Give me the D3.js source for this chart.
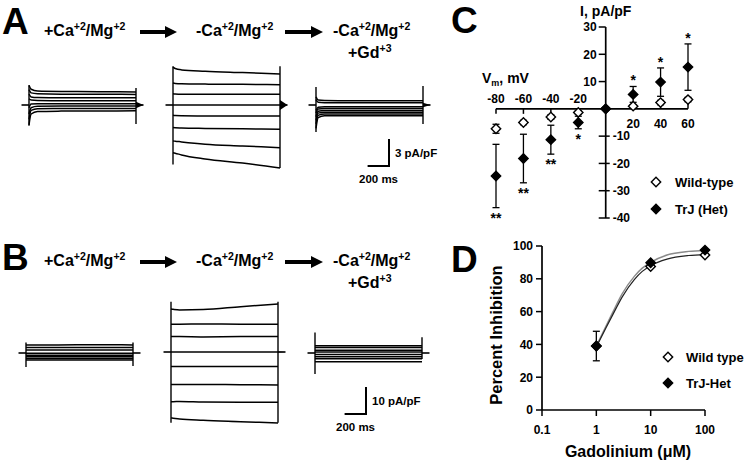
<!DOCTYPE html>
<html>
<head>
<meta charset="utf-8">
<script src="https://cdn.jsdelivr.net/npm/d3@7"></script>
<style>
body{margin:0;background:#fff}
text{font-family:"Liberation Sans",Arial,sans-serif;font-weight:bold;fill:#000}
</style>
</head>
<body>
<script>
// ---- data ----
var conditionLabels = [
	[["+Ca","+2"],["/Mg","+2"]],
	[["-Ca","+2"],["/Mg","+2"]],
	[["-Ca","+2"],["/Mg","+2"]]
];
var gdLabel = [["+Gd","+3"]];

// current traces (pA/pF), one row per voltage step, sampled at traceTimes (ms)
var traceTimes = [0, 20, 80, 300, 650, 1000];
var tracesA1 = [
	[2.2,1.75,1.55,1.5,1.48,1.45],
	[1.7,1.35,1.25,1.2,1.2,1.18],
	[1.2,0.9,0.83,0.8,0.8,0.8],
	[0.7,0.55,0.5,0.48,0.47,0.47],
	[-0.3,0.1,0.15,0.15,0.15,0.15],
	[-1.0,-0.3,-0.15,-0.12,-0.12,-0.12],
	[-1.6,-0.6,-0.42,-0.4,-0.4,-0.4],
	[-2.2,-1.0,-0.72,-0.68,-0.66,-0.65]
];
var tracesA2 = [
	[4.2,4.05,3.9,3.75,3.6,3.45],
	[2.45,2.4,2.35,2.32,2.3,2.25],
	[1.25,1.22,1.2,1.2,1.2,1.2],
	[0,0,0,0,0,0],
	[-1.15,-1.18,-1.2,-1.22,-1.22,-1.22],
	[-2.5,-2.52,-2.55,-2.6,-2.65,-2.7],
	[-4.0,-4.02,-4.1,-4.35,-4.55,-4.75],
	[-5.3,-5.35,-5.55,-6.0,-6.45,-7.0]
];
var tracesA3 = [
	[0.9,0.55,0.5,0.48,0.47,0.47],
	[0.6,0.3,0.26,0.25,0.25,0.25],
	[-0.6,-0.25,-0.2,-0.2,-0.2,-0.2],
	[-0.9,-0.45,-0.4,-0.4,-0.4,-0.4],
	[-1.3,-0.7,-0.6,-0.6,-0.6,-0.6],
	[-1.7,-0.9,-0.8,-0.8,-0.8,-0.8],
	[-2.1,-1.15,-1.0,-1.0,-1.0,-1.0],
	[-2.6,-1.4,-1.2,-1.2,-1.2,-1.2]
];
var tracesB1 = [
	[3.0,3.0,3.0,3.0,3.1,3.0],
	[2.0,2.0,2.0,2.0,2.0,2.0],
	[1.1,1.1,1.1,1.1,1.1,1.1],
	[-0.1,-0.1,-0.1,-0.1,-0.1,-0.1],
	[-0.8,-0.8,-0.8,-0.8,-0.8,-0.8],
	[-1.4,-1.4,-1.4,-1.4,-1.4,-1.4],
	[-2.0,-2.0,-2.0,-2.0,-2.0,-2.0],
	[-2.6,-2.6,-2.6,-2.6,-2.6,-2.6]
];
var tracesB2 = [
	[15.9,15.8,15.6,15.7,16.8,17.8],
	[10.3,10.3,10.3,10.4,10.3,10.3],
	[5.7,5.7,5.7,5.6,5.7,5.7],
	[0,0,0,0,0,0],
	[-5.4,-5.4,-5.4,-5.4,-5.4,-5.4],
	[-12,-12,-12,-12,-12.1,-12.2],
	[-18.4,-18.4,-18.3,-18.5,-18.6,-18.6],
	[-24.4,-24.5,-24.8,-25.3,-25.8,-26.3]
];
var tracesB3 = [
	[2.7,2.7,2.7,2.7,2.7,2.7],
	[2.0,2.0,2.0,2.0,2.0,2.0],
	[1.0,1.0,1.0,1.0,1.0,1.0],
	[0.4,0.4,0.4,0.4,0.4,0.4],
	[-0.6,-0.6,-0.6,-0.6,-0.6,-0.6],
	[-1.4,-1.4,-1.4,-1.4,-1.4,-1.4],
	[-2.1,-2.1,-2.1,-2.1,-2.1,-2.1],
	[-3.2,-3.2,-3.2,-3.2,-3.2,-3.2]
];
// capacitive spikes: [on top, on bottom, off top, off bottom] (pA/pF)
var spikesA = [[2.2,-2.3,1.9,-2.1],[4.3,-6.6,4.3,-7.0],[2.0,-3.0,2.1,-2.1]];
var spikesB = [[3.9,-5.2,3.9,-4.8],[18.6,-26.2,18.6,-26.2],[7.6,-7.8,5.8,-2.2]];
var tailsA = [0.35, 0.55, 0.25];
var tailsB = [0, 0.2, 0];
var scaleAmp = [3, 10];
var scaleTime = [200, 200];
var scaleUnits = ["3 pA/pF", "10 pA/pF"];

// panel C: I-V
var vm = [-80,-60,-40,-20,0,20,40,60];
var wtI = [-7.3,-5,-3,-1.3,0,1,2.3,3.4];
var wtErr = [1.65,0.8,0.8,0.6,0,0.5,0.8,0.8];
var trjI = [-24.6,-18.2,-11.3,-5,0,5.3,9.8,15.3];
var trjErr = [11.6,8.9,5.3,2.3,0,2.9,5.2,8.5];
var sig = ["**","**","**","*","","*","*","*"];
var ivTicksX = [-80,-60,-40,-20,20,40,60];
var ivTicksY = [30,20,10,-10,-20,-30,-40];
var legendC = ["Wild-type","TrJ (Het)"];

// panel D: Gd dose response
var gdConc = [1,10,100];
var wtInh = [39,87.5,94.5];
var trjInh = [39,89.8,97.5];
var trjInhErr = [9,0,0];
var fitConc = [1,1.5,2,3,5,7,10,20,50,100];
var wtFit = [38.5,50,58,69,79.5,84.5,88,92,94.2,94.8];
var trjFit = [39,51,59.5,71,81.5,86.5,90,94.5,96.7,97.3];
var doseTicksX = [0.1,1,10,100];
var doseTicksY = [0,20,40,60,80,100];
var legendD = ["Wild type","TrJ-Het"];

// ---- drawing ----
var svg = d3.select("body").append("svg").attr("width",745).attr("height",464);
svg.append("rect").attr("width",745).attr("height",464).attr("fill","#fff");

function supText(parts, x, y, size){
	var t = svg.append("text").attr("x",x).attr("y",y).style("font-size",size+"px");
	var up = 0;
	parts.forEach(function(p){
		t.append("tspan").attr("dy",up).text(p[0]);
		t.append("tspan").attr("dy",-size*0.4).style("font-size",(size*0.66)+"px").text(p[1]);
		up = size*0.4;
	});
	return t;
}
function arrow(x1,x2,y){
	svg.append("line").attr("x1",x1).attr("x2",x2-8).attr("y1",y).attr("y2",y)
		.attr("stroke","#000").attr("stroke-width",4);
	svg.append("path").attr("d","M"+(x2-12)+","+(y-6)+"L"+x2+","+y+"L"+(x2-12)+","+(y+6)+"Z").attr("fill","#000");
}
function panelLetter(s,x,y){
	svg.append("text").attr("x",x).attr("y",y).style("font-size","37px").text(s);
}

var line = d3.line().curve(d3.curveMonotoneX);
function drawTraces(traces, x0, yBase, pxPerUnit, spike, tail){
	var x = d3.scaleLinear().domain([0,1000]).range([x0, x0+107]);
	var y = d3.scaleLinear().domain([0,1]).range([yBase, yBase-pxPerUnit]);
	var g = svg.append("g");
	g.append("line").attr("x1",x(-70)).attr("x2",x(0)).attr("y1",y(0)).attr("y2",y(0))
		.attr("stroke","#000").attr("stroke-width",1.6);
	g.append("line").attr("x1",x(1000)).attr("x2",x(1070)).attr("y1",y(0)).attr("y2",y(0))
		.attr("stroke","#000").attr("stroke-width",1.6);
	traces.forEach(function(tr){
		g.append("path").attr("d", line(tr.map(function(v,i){return [x(traceTimes[i]), y(v)];})))
			.attr("fill","none").attr("stroke","#000").attr("stroke-width",1.5);
	});
	g.append("line").attr("x1",x(0)).attr("x2",x(0)).attr("y1",y(spike[0])).attr("y2",y(spike[1]))
		.attr("stroke","#000").attr("stroke-width",1.4);
	g.append("line").attr("x1",x(1000)).attr("x2",x(1000)).attr("y1",y(spike[2])).attr("y2",y(spike[3]))
		.attr("stroke","#000").attr("stroke-width",1.4);
	if(tail>0){
		g.append("path").attr("d","M"+x(1000)+","+y(tail)+"L"+x(1070)+","+y(0)+"L"+x(1000)+","+y(-tail)+"Z")
			.attr("fill","#000");
	}
}
function scaleBar(cx, cy, amp, pxPerUnit, ms, label){
	var x = d3.scaleLinear().domain([0,1000]).range([cx, cx+107]);
	var y = d3.scaleLinear().domain([0,1]).range([cy, cy-pxPerUnit]);
	svg.append("path").attr("d","M"+(cx-(x(ms)-cx))+","+cy+"L"+cx+","+cy+"L"+cx+","+y(amp))
		.attr("fill","none").attr("stroke","#000").attr("stroke-width",2);
	svg.append("text").attr("x",cx+6).attr("y",(cy+y(amp))/2+4).style("font-size","11.5px").text(label);
	svg.append("text").attr("x",cx-30).attr("y",cy+17).style("font-size","11.5px").text(ms+" ms");
}

// Panel A
panelLetter("A",2,34);
var labelX = [44,196,333];
conditionLabels.forEach(function(p,i){ supText(p, labelX[i], 36, 16); });
supText(gdLabel, 348, 58, 16);
arrow(140,177,32); arrow(285,323,32);
drawTraces(tracesA1, 29, 105, 9, spikesA[0], tailsA[0]);
drawTraces(tracesA2, 173, 105, 9, spikesA[1], tailsA[1]);
drawTraces(tracesA3, 316, 105, 9, spikesA[2], tailsA[2]);
scaleBar(389, 166, scaleAmp[0], 9, scaleTime[0], scaleUnits[0]);

// Panel B
panelLetter("B",2,270);
conditionLabels.forEach(function(p,i){ supText(p, labelX[i], 266, 16); });
supText(gdLabel, 348, 288, 16);
arrow(140,177,262); arrow(285,323,262);
drawTraces(tracesB1, 26, 353, 2.7, spikesB[0], tailsB[0]);
drawTraces(tracesB2, 171, 352, 2.7, spikesB[1], tailsB[1]);
drawTraces(tracesB3, 315, 353, 2.7, spikesB[2], tailsB[2]);
scaleBar(366, 414, scaleAmp[1], 2.7, scaleTime[1], scaleUnits[1]);

// Panel C
panelLetter("C",451,33);
var xC = d3.scaleLinear().domain([-80,60]).range([496,688]);
var yC = d3.scaleLinear().domain([-40,30]).range([218,27]);
var gC = svg.append("g");
gC.append("line").attr("x1",xC(-80)).attr("x2",xC(60)).attr("y1",yC(0)).attr("y2",yC(0)).attr("stroke","#000").attr("stroke-width",1.7);
gC.append("line").attr("x1",xC(0)).attr("x2",xC(0)).attr("y1",yC(30)).attr("y2",yC(-40)).attr("stroke","#000").attr("stroke-width",1.7);
ivTicksX.forEach(function(v){
	gC.append("line").attr("x1",xC(v)).attr("x2",xC(v)).attr("y1",yC(0)).attr("y2",yC(0)+(v<0?5:-5)).attr("stroke","#000").attr("stroke-width",1.5);
	gC.append("text").attr("x",xC(v)).attr("y",v<0?yC(0)-6:yC(0)+19).attr("text-anchor","middle").style("font-size","12px").text(v);
});
ivTicksY.forEach(function(v){
	gC.append("line").attr("x1",xC(0)-7).attr("x2",xC(0)+(v<0?4:0)).attr("y1",yC(v)).attr("y2",yC(v)).attr("stroke","#000").attr("stroke-width",1.5);
	gC.append("text").attr("x",v>0?xC(0)-9:xC(0)+7).attr("y",yC(v)).attr("dy","0.36em")
		.attr("text-anchor",v>0?"end":"start").style("font-size","12px").text(v);
});
gC.append("text").attr("x",xC(0)).attr("y",16).attr("text-anchor","middle").style("font-size","14px").text("I, pA/pF");
var vl = gC.append("text").attr("x",482).attr("y",83).style("font-size","14px");
vl.append("tspan").text("V");
vl.append("tspan").attr("dy",3).style("font-size","9px").text("m");
vl.append("tspan").attr("dy",-3).text(", mV");

var diamond = d3.symbol().type(d3.symbolSquare).size(44)();
function errBars(g, xs, ys, es, xS, yS){
	xs.forEach(function(xv,i){
		if(!es[i]) return;
		var px = xS(xv), y1 = yS(ys[i]+es[i]), y2 = yS(ys[i]-es[i]);
		g.append("line").attr("x1",px).attr("x2",px).attr("y1",y1).attr("y2",y2).attr("stroke","#000").attr("stroke-width",1.3);
		[y1,y2].forEach(function(yy){
			g.append("line").attr("x1",px-3.5).attr("x2",px+3.5).attr("y1",yy).attr("y2",yy).attr("stroke","#000").attr("stroke-width",1.3);
		});
	});
}
function diamonds(g, xs, ys, xS, yS, filled){
	xs.forEach(function(xv,i){
		g.append("path").attr("d",diamond)
			.attr("transform","translate("+xS(xv)+","+yS(ys[i])+") rotate(45)")
			.attr("fill",filled?"#000":"#fff").attr("stroke","#000").attr("stroke-width",1.4);
	});
}
errBars(gC, vm, trjI, trjErr, xC, yC);
errBars(gC, vm, wtI, wtErr, xC, yC);
diamonds(gC, vm, wtI, xC, yC, false);
diamonds(gC, vm, trjI, xC, yC, true);
vm.forEach(function(v,i){
	if(!sig[i]) return;
	var yy = v<0 ? yC(trjI[i]-trjErr[i])+15 : yC(trjI[i]+trjErr[i])-1;
	gC.append("text").attr("x",xC(v)).attr("y",yy).attr("text-anchor","middle").style("font-size","14px").text(sig[i]);
});
legendC.forEach(function(s,i){
	var yy = 182 + i*27;
	gC.append("path").attr("d",diamond).attr("transform","translate(656,"+yy+") rotate(45)")
		.attr("fill",i?"#000":"#fff").attr("stroke","#000").attr("stroke-width",1.4);
	gC.append("text").attr("x",675).attr("y",yy).attr("dy","0.36em").style("font-size","13px").text(s);
});

// Panel D
panelLetter("D",451,272);
var xD = d3.scaleLog().domain([0.1,100]).range([542,705]);
var yD = d3.scaleLinear().domain([0,100]).range([410,246]);
var gD = svg.append("g");
gD.append("line").attr("x1",xD(0.1)).attr("x2",xD(100)).attr("y1",yD(0)).attr("y2",yD(0)).attr("stroke","#000").attr("stroke-width",1.7);
gD.append("line").attr("x1",xD(0.1)).attr("x2",xD(0.1)).attr("y1",yD(0)).attr("y2",yD(100)).attr("stroke","#000").attr("stroke-width",1.7);
doseTicksX.forEach(function(v){
	gD.append("line").attr("x1",xD(v)).attr("x2",xD(v)).attr("y1",yD(0)).attr("y2",yD(0)+6).attr("stroke","#000").attr("stroke-width",1.5);
	gD.append("text").attr("x",xD(v)).attr("y",yD(0)+24).attr("text-anchor","middle").style("font-size","12px").text(v);
});
doseTicksY.forEach(function(v){
	gD.append("line").attr("x1",xD(0.1)-6).attr("x2",xD(0.1)).attr("y1",yD(v)).attr("y2",yD(v)).attr("stroke","#000").attr("stroke-width",1.5);
	gD.append("text").attr("x",xD(0.1)-9).attr("y",yD(v)).attr("dy","0.36em").attr("text-anchor","end").style("font-size","12px").text(v);
});
var fitLine = d3.line().curve(d3.curveMonotoneX);
gD.append("path").attr("d",fitLine(fitConc.map(function(c,i){return [xD(c),yD(trjFit[i])];})))
	.attr("fill","none").attr("stroke","#8a8a8a").attr("stroke-width",1.4);
gD.append("path").attr("d",fitLine(fitConc.map(function(c,i){return [xD(c),yD(wtFit[i])];})))
	.attr("fill","none").attr("stroke","#222").attr("stroke-width",1.2);
errBars(gD, gdConc, trjInh, trjInhErr, xD, yD);
diamonds(gD, gdConc, wtInh, xD, yD, false);
diamonds(gD, gdConc, trjInh, xD, yD, true);
gD.append("text").attr("transform","translate(502,335) rotate(-90)").attr("text-anchor","middle").style("font-size","16.5px").text("Percent Inhibition");
gD.append("text").attr("x",628).attr("y",457).attr("text-anchor","middle").style("font-size","16px").text("Gadolinium (\u03bcM)");
legendD.forEach(function(s,i){
	var yy = 357 + i*26;
	gD.append("path").attr("d",diamond).attr("transform","translate(668,"+yy+") rotate(45)")
		.attr("fill",i?"#000":"#fff").attr("stroke","#000").attr("stroke-width",1.4);
	gD.append("text").attr("x",686).attr("y",yy).attr("dy","0.36em").style("font-size","13px").text(s);
});
</script>
</body>
</html>
